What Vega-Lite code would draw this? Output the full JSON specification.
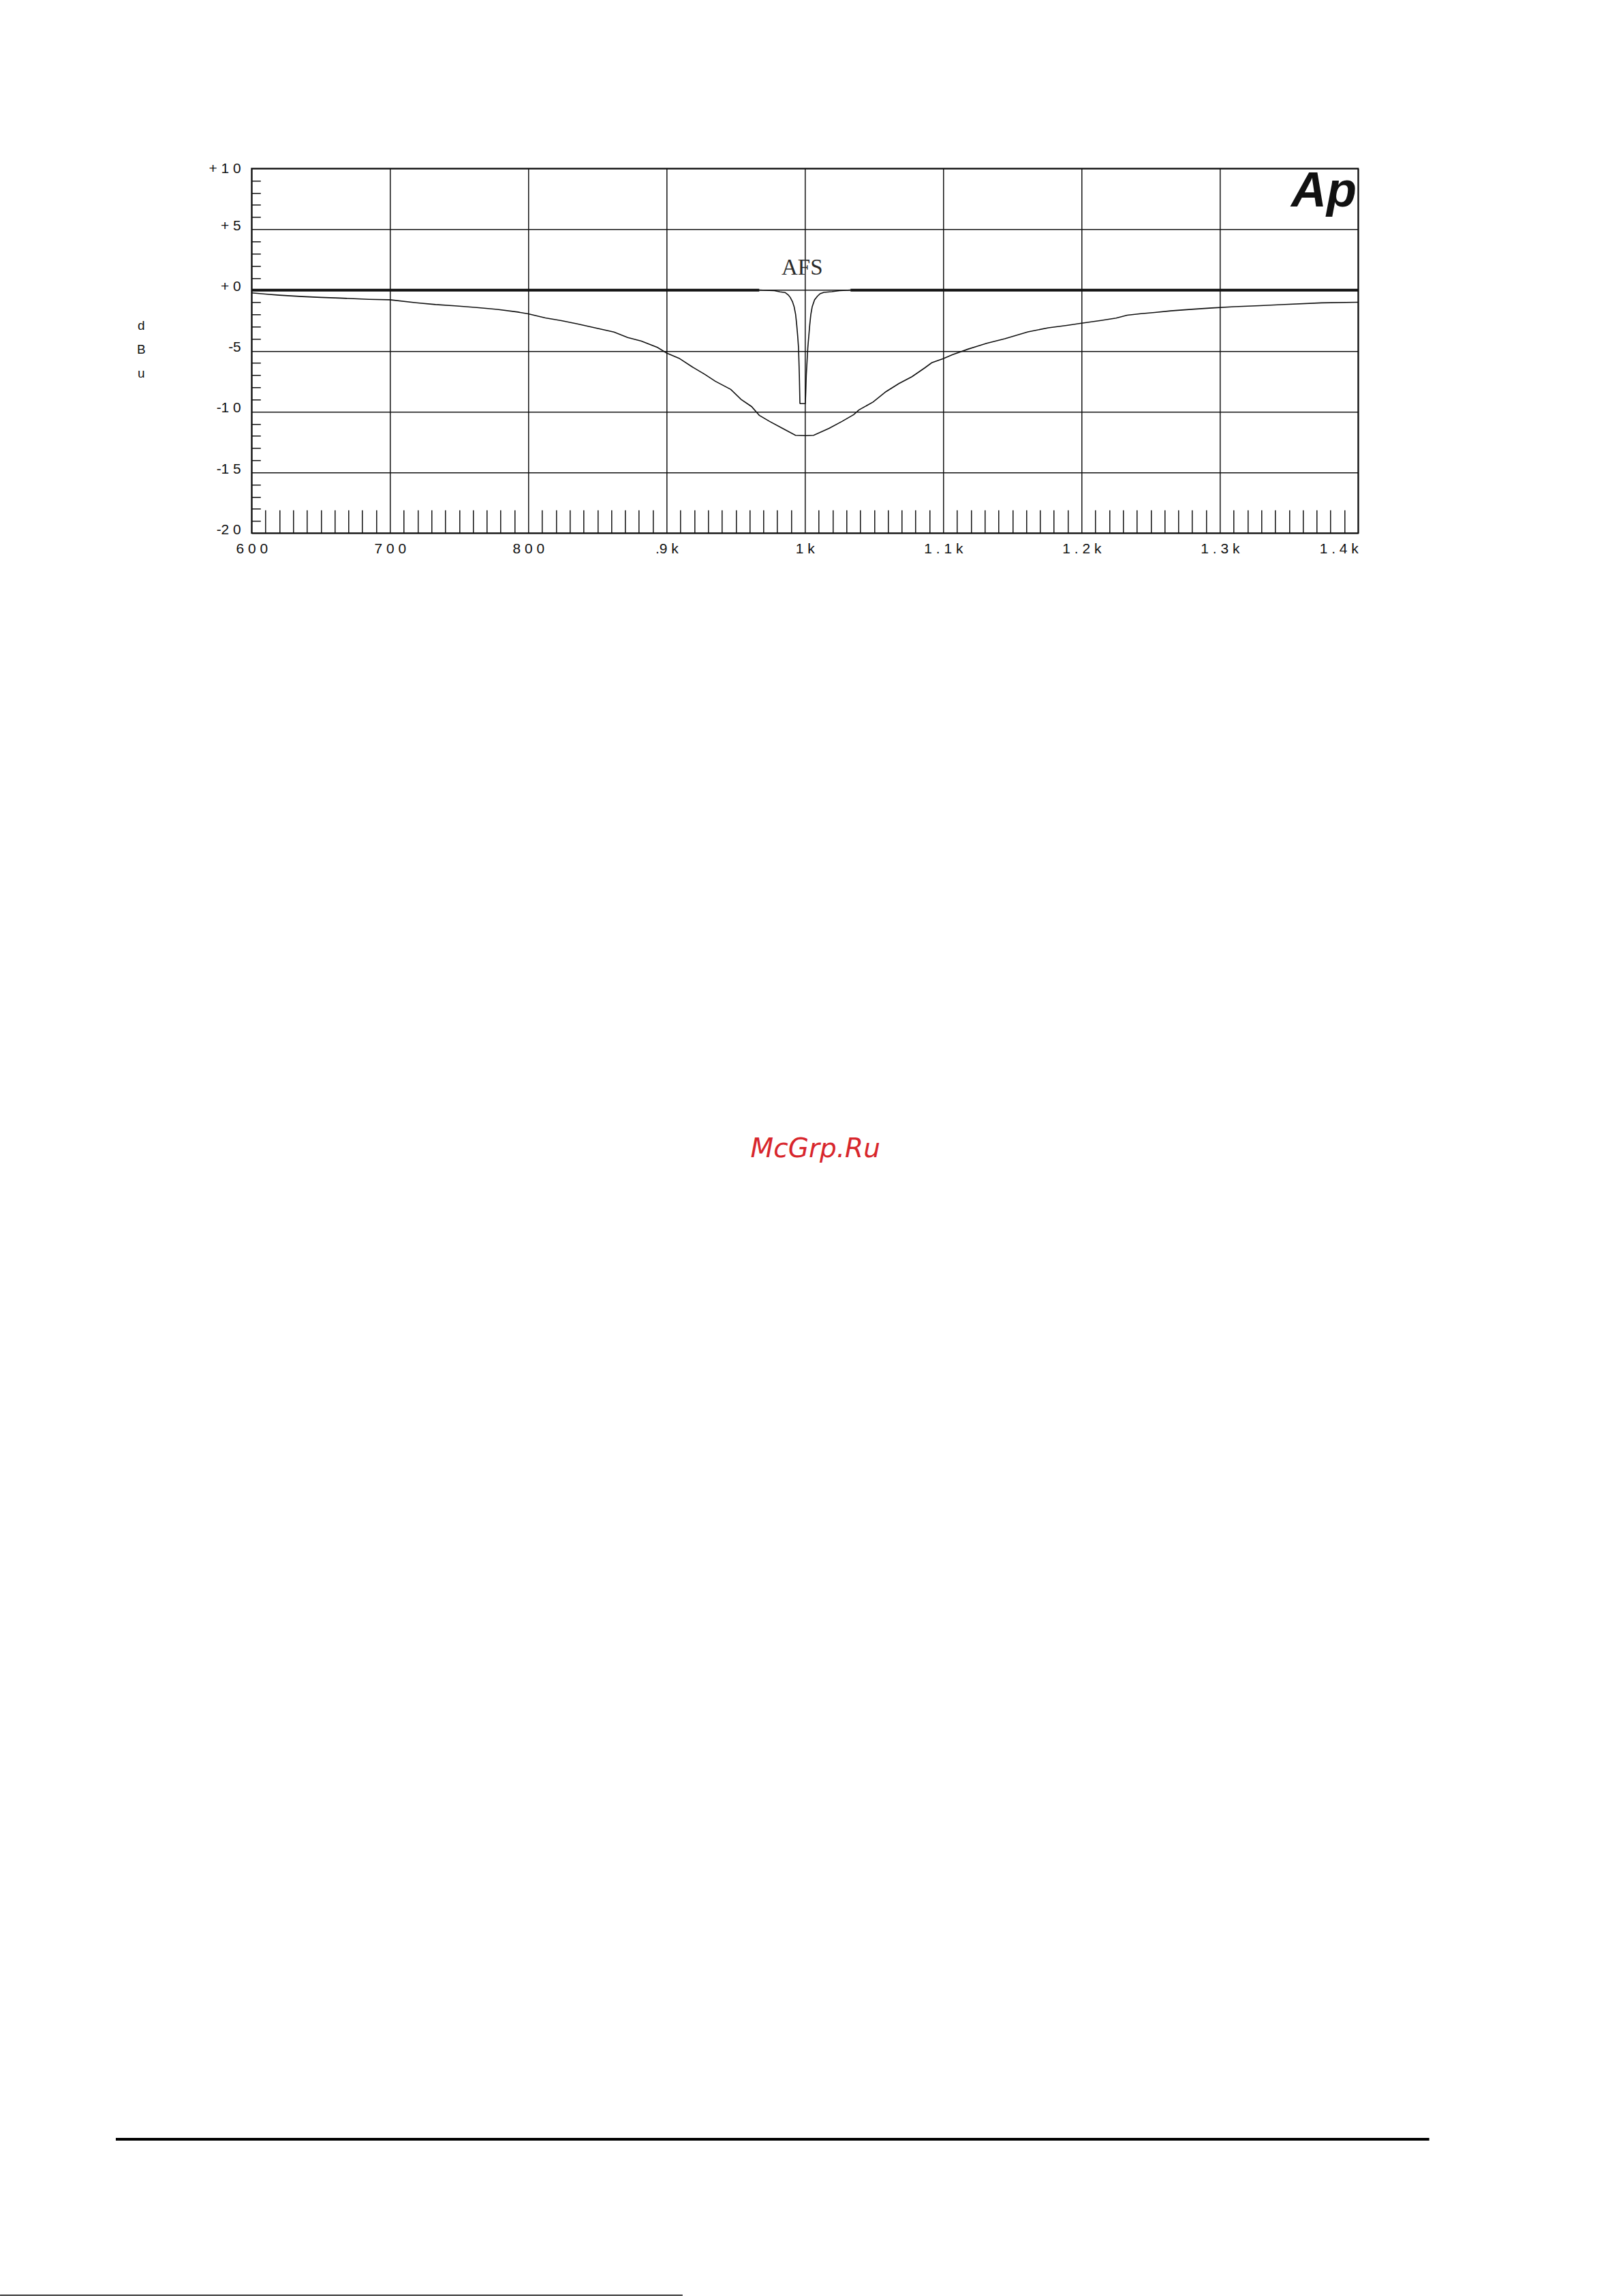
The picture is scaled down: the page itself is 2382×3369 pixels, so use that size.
{
  "$schema": "https://vega.github.io/schema/vega-lite/v6.json",
  "autosize": {"type": "none"},
  "width": 1624,
  "height": 535,
  "padding": {"left": 369.3, "top": 247.3, "right": 388.7, "bottom": 2586.4},
  "background": "white",
  "config": {
    "view": {"stroke": "#111111", "strokeWidth": 2},
    "axis": {"labelFont": "Liberation Sans", "labelColor": "#111111", "domain": false}
  },
  "datasets": {
    "curves": [
      {"s": "wide", "seg": "w", "f": 600, "dB": -0.23},
      {"s": "wide", "seg": "w", "f": 610, "dB": -0.33},
      {"s": "wide", "seg": "w", "f": 620, "dB": -0.42},
      {"s": "wide", "seg": "w", "f": 636.6, "dB": -0.53},
      {"s": "wide", "seg": "w", "f": 650, "dB": -0.6},
      {"s": "wide", "seg": "w", "f": 663.8, "dB": -0.66},
      {"s": "wide", "seg": "w", "f": 685, "dB": -0.76},
      {"s": "wide", "seg": "w", "f": 700, "dB": -0.8},
      {"s": "wide", "seg": "w", "f": 719, "dB": -1.04},
      {"s": "wide", "seg": "w", "f": 733, "dB": -1.19},
      {"s": "wide", "seg": "w", "f": 747, "dB": -1.3},
      {"s": "wide", "seg": "w", "f": 762.8, "dB": -1.44},
      {"s": "wide", "seg": "w", "f": 777.7, "dB": -1.59},
      {"s": "wide", "seg": "w", "f": 792.6, "dB": -1.81},
      {"s": "wide", "seg": "w", "f": 800, "dB": -1.96},
      {"s": "wide", "seg": "w", "f": 812.4, "dB": -2.29},
      {"s": "wide", "seg": "w", "f": 824, "dB": -2.52},
      {"s": "wide", "seg": "w", "f": 835.5, "dB": -2.78},
      {"s": "wide", "seg": "w", "f": 847.1, "dB": -3.08},
      {"s": "wide", "seg": "w", "f": 862, "dB": -3.45},
      {"s": "wide", "seg": "w", "f": 871.9, "dB": -3.9},
      {"s": "wide", "seg": "w", "f": 881.8, "dB": -4.2},
      {"s": "wide", "seg": "w", "f": 893.4, "dB": -4.72},
      {"s": "wide", "seg": "w", "f": 900, "dB": -5.18},
      {"s": "wide", "seg": "w", "f": 909, "dB": -5.61},
      {"s": "wide", "seg": "w", "f": 918.3, "dB": -6.3},
      {"s": "wide", "seg": "w", "f": 927.7, "dB": -6.94},
      {"s": "wide", "seg": "w", "f": 935.2, "dB": -7.5},
      {"s": "wide", "seg": "w", "f": 946.4, "dB": -8.17},
      {"s": "wide", "seg": "w", "f": 953.9, "dB": -9.0},
      {"s": "wide", "seg": "w", "f": 961.4, "dB": -9.58},
      {"s": "wide", "seg": "w", "f": 967, "dB": -10.3},
      {"s": "wide", "seg": "w", "f": 974.5, "dB": -10.81},
      {"s": "wide", "seg": "w", "f": 983.8, "dB": -11.38},
      {"s": "wide", "seg": "w", "f": 993.2, "dB": -11.95},
      {"s": "wide", "seg": "w", "f": 1000.7, "dB": -11.98},
      {"s": "wide", "seg": "w", "f": 1006.3, "dB": -11.95},
      {"s": "wide", "seg": "w", "f": 1017.5, "dB": -11.38},
      {"s": "wide", "seg": "w", "f": 1026.8, "dB": -10.81},
      {"s": "wide", "seg": "w", "f": 1035.3, "dB": -10.25},
      {"s": "wide", "seg": "w", "f": 1039, "dB": -9.87},
      {"s": "wide", "seg": "w", "f": 1049.3, "dB": -9.21},
      {"s": "wide", "seg": "w", "f": 1058.6, "dB": -8.36},
      {"s": "wide", "seg": "w", "f": 1068, "dB": -7.69},
      {"s": "wide", "seg": "w", "f": 1077.4, "dB": -7.13},
      {"s": "wide", "seg": "w", "f": 1086.7, "dB": -6.4},
      {"s": "wide", "seg": "w", "f": 1091.7, "dB": -5.98},
      {"s": "wide", "seg": "w", "f": 1100, "dB": -5.64},
      {"s": "wide", "seg": "w", "f": 1106.6, "dB": -5.32},
      {"s": "wide", "seg": "w", "f": 1118.2, "dB": -4.85},
      {"s": "wide", "seg": "w", "f": 1131.4, "dB": -4.38},
      {"s": "wide", "seg": "w", "f": 1144.6, "dB": -4.0},
      {"s": "wide", "seg": "w", "f": 1161.2, "dB": -3.44},
      {"s": "wide", "seg": "w", "f": 1176, "dB": -3.1},
      {"s": "wide", "seg": "w", "f": 1189.3, "dB": -2.91},
      {"s": "wide", "seg": "w", "f": 1200, "dB": -2.73},
      {"s": "wide", "seg": "w", "f": 1214, "dB": -2.5},
      {"s": "wide", "seg": "w", "f": 1225, "dB": -2.31},
      {"s": "wide", "seg": "w", "f": 1233, "dB": -2.07},
      {"s": "wide", "seg": "w", "f": 1243, "dB": -1.94},
      {"s": "wide", "seg": "w", "f": 1252.9, "dB": -1.84},
      {"s": "wide", "seg": "w", "f": 1264.5, "dB": -1.71},
      {"s": "wide", "seg": "w", "f": 1277.7, "dB": -1.6},
      {"s": "wide", "seg": "w", "f": 1294.2, "dB": -1.47},
      {"s": "wide", "seg": "w", "f": 1310.7, "dB": -1.37},
      {"s": "wide", "seg": "w", "f": 1328.9, "dB": -1.28},
      {"s": "wide", "seg": "w", "f": 1347.1, "dB": -1.18},
      {"s": "wide", "seg": "w", "f": 1373.6, "dB": -1.05},
      {"s": "wide", "seg": "w", "f": 1400, "dB": -1.0},
      {"s": "flat", "seg": "a", "f": 600, "dB": 0},
      {"s": "flat", "seg": "a", "f": 967, "dB": 0},
      {"s": "flat", "seg": "b", "f": 1033, "dB": 0},
      {"s": "flat", "seg": "b", "f": 1400, "dB": 0},
      {"s": "AFS", "seg": "n", "f": 967, "dB": 0},
      {"s": "AFS", "seg": "n", "f": 978, "dB": -0.05},
      {"s": "AFS", "seg": "n", "f": 982, "dB": -0.15},
      {"s": "AFS", "seg": "n", "f": 985.7, "dB": -0.2},
      {"s": "AFS", "seg": "n", "f": 988, "dB": -0.4},
      {"s": "AFS", "seg": "n", "f": 989.4, "dB": -0.6},
      {"s": "AFS", "seg": "n", "f": 991, "dB": -0.95},
      {"s": "AFS", "seg": "n", "f": 992.2, "dB": -1.36},
      {"s": "AFS", "seg": "n", "f": 993.3, "dB": -2.0},
      {"s": "AFS", "seg": "n", "f": 994.1, "dB": -2.87},
      {"s": "AFS", "seg": "n", "f": 994.8, "dB": -3.8},
      {"s": "AFS", "seg": "n", "f": 995.4, "dB": -4.76},
      {"s": "AFS", "seg": "n", "f": 996, "dB": -7.03},
      {"s": "AFS", "seg": "n", "f": 996.4, "dB": -9.3},
      {"s": "AFS", "seg": "n", "f": 996.6, "dB": -9.34},
      {"s": "AFS", "seg": "n", "f": 1000.3, "dB": -9.34},
      {"s": "AFS", "seg": "n", "f": 1000.6, "dB": -8.5},
      {"s": "AFS", "seg": "n", "f": 1001, "dB": -7.03},
      {"s": "AFS", "seg": "n", "f": 1002.1, "dB": -4.76},
      {"s": "AFS", "seg": "n", "f": 1003.5, "dB": -2.87},
      {"s": "AFS", "seg": "n", "f": 1004.3, "dB": -2.0},
      {"s": "AFS", "seg": "n", "f": 1005.3, "dB": -1.36},
      {"s": "AFS", "seg": "n", "f": 1007, "dB": -0.8},
      {"s": "AFS", "seg": "n", "f": 1009, "dB": -0.51},
      {"s": "AFS", "seg": "n", "f": 1011, "dB": -0.3},
      {"s": "AFS", "seg": "n", "f": 1013.7, "dB": -0.19},
      {"s": "AFS", "seg": "n", "f": 1019.4, "dB": -0.13},
      {"s": "AFS", "seg": "n", "f": 1025, "dB": -0.05},
      {"s": "AFS", "seg": "n", "f": 1033, "dB": 0}
    ],
    "labels": [
      {"t": "AFS"},
      {"t": "Ap"},
      {"t": "McGrp.Ru"}
    ]
  },
  "encoding": {
    "x": {
      "type": "quantitative",
      "scale": {"domain": [600, 1400], "nice": false, "zero": false},
      "axis": {
        "title": null,
        "values": [600,610,620,630,640,650,660,670,680,690,700,710,720,730,740,750,760,770,780,790,800,810,820,830,840,850,860,870,880,890,900,910,920,930,940,950,960,970,980,990,1000,1010,1020,1030,1040,1050,1060,1070,1080,1090,1100,1110,1120,1130,1140,1150,1160,1170,1180,1190,1200,1210,1220,1230,1240,1250,1260,1270,1280,1290,1300,1310,1320,1330,1340,1350,1360,1370,1380,1390,1400],
        "grid": true,
        "gridColor": "#111111",
        "gridWidth": 1.5,
        "gridOpacity": {"condition": {"test": "datum.value % 100 == 0", "value": 1}, "value": 0},
        "ticks": true,
        "tickSize": -34,
        "tickWidth": 1.5,
        "tickColor": "#111111",
        "tickOpacity": {"condition": {"test": "datum.value % 100 == 0", "value": 0}, "value": 1},
        "labelExpr": "datum.value == 600 ? '6 0 0' : datum.value == 700 ? '7 0 0' : datum.value == 800 ? '8 0 0' : datum.value == 900 ? '.9 k' : datum.value == 1000 ? '1 k' : datum.value == 1100 ? '1 . 1 k' : datum.value == 1200 ? '1 . 2 k' : datum.value == 1300 ? '1 . 3 k' : datum.value == 1400 ? '1 . 4 k' : ''",
        "labelFontSize": 21,
        "labelPadding": 46,
        "labelOverlap": false,
        "labelBound": false,
        "labelFlush": false,
        "labelAlign": {"condition": {"test": "datum.value == 1400", "value": "right"}, "value": "center"}
      }
    },
    "y": {
      "type": "quantitative",
      "scale": {"domain": [-20, 10], "nice": false, "zero": false},
      "axis": {
        "title": ["d", "B", "u"],
        "titleAngle": 0,
        "titleX": -162.6,
        "titleY": 230.5,
        "titleAlign": "center",
        "titleBaseline": "middle",
        "titleLineHeight": 35,
        "titleFont": "Liberation Sans",
        "titleFontSize": 19,
        "titleFontWeight": "normal",
        "titleColor": "#111111",
        "values": [-20,-19,-18,-17,-16,-15,-14,-13,-12,-11,-10,-9,-8,-7,-6,-5,-4,-3,-2,-1,0,1,2,3,4,5,6,7,8,9,10],
        "grid": true,
        "gridColor": "#111111",
        "gridWidth": 1.5,
        "gridOpacity": {"condition": {"test": "datum.value % 5 == 0", "value": 1}, "value": 0},
        "ticks": true,
        "tickSize": -13,
        "tickWidth": 1.5,
        "tickColor": "#111111",
        "tickOpacity": {"condition": {"test": "datum.value % 5 == 0", "value": 0}, "value": 1},
        "labelExpr": "datum.value == 10 ? '+ 1 0' : datum.value == 5 ? '+ 5' : datum.value == 0 ? '+ 0' : datum.value == -5 ? '-5' : datum.value == -10 ? '-1 0' : datum.value == -15 ? '-1 5' : datum.value == -20 ? '-2 0' : ''",
        "labelFontSize": 21,
        "labelPadding": 29,
        "labelOffset": {"condition": {"test": "datum.value == 10", "value": 0}, "value": -5},
        "labelOverlap": false,
        "labelBound": false,
        "labelFlush": false,
        "labelBaseline": "middle"
      }
    }
  },
  "layer": [
    {
      "data": {"name": "curves"},
      "transform": [{"filter": "datum.s == 'wide'"}],
      "mark": {"type": "line", "color": "#111111", "strokeWidth": 1.6, "interpolate": "linear"},
      "encoding": {"x": {"field": "f"}, "y": {"field": "dB"}, "detail": {"field": "seg"}}
    },
    {
      "data": {"name": "curves"},
      "transform": [{"filter": "datum.s == 'flat'"}],
      "mark": {"type": "line", "color": "#111111", "strokeWidth": 4},
      "encoding": {"x": {"field": "f"}, "y": {"field": "dB"}, "detail": {"field": "seg"}}
    },
    {
      "data": {"name": "curves"},
      "transform": [{"filter": "datum.s == 'AFS'"}],
      "mark": {"type": "line", "color": "#111111", "strokeWidth": 1.6},
      "encoding": {"x": {"field": "f"}, "y": {"field": "dB"}, "detail": {"field": "seg"}}
    },
    {
      "data": {"name": "labels"},
      "transform": [{"filter": "datum.t == 'AFS'"}],
      "mark": {"type": "text", "font": "Liberation Serif", "fontSize": 33, "color": "#2a2a2a", "align": "center", "baseline": "alphabetic"},
      "encoding": {"x": {"datum": 998}, "y": {"datum": 1.27}, "text": {"field": "t"}}
    },
    {
      "data": {"name": "labels"},
      "transform": [{"filter": "datum.t == 'Ap'"}],
      "mark": {"type": "text", "font": "Liberation Sans", "fontSize": 72, "fontWeight": "bold", "fontStyle": "italic", "color": "#111111", "align": "right", "baseline": "alphabetic"},
      "encoding": {"x": {"datum": 1398.8}, "y": {"datum": 6.86}, "text": {"field": "t"}}
    },
    {
      "data": {"name": "labels"},
      "transform": [{"filter": "datum.t == 'McGrp.Ru'"}],
      "mark": {"type": "text", "font": "DejaVu Sans", "fontSize": 39, "fontStyle": "italic", "color": "#d8262c", "align": "center", "baseline": "alphabetic"},
      "encoding": {"x": {"datum": 1007.6}, "y": {"datum": -71.37}, "text": {"field": "t"}}
    },
    {
      "data": {"name": "labels"},
      "transform": [{"filter": "datum.t == 'AFS'"}],
      "mark": {"type": "rule", "color": "#000000", "strokeWidth": 4},
      "encoding": {"x": {"datum": 501.8}, "x2": {"datum": 1451.4}, "y": {"datum": -152.15}}
    },
    {
      "data": {"name": "labels"},
      "transform": [{"filter": "datum.t == 'AFS'"}],
      "mark": {"type": "rule", "color": "#000000", "strokeWidth": 1.5},
      "encoding": {"x": {"datum": 418.1}, "x2": {"datum": 911.6}, "y": {"datum": -164.98}}
    }
  ]
}
